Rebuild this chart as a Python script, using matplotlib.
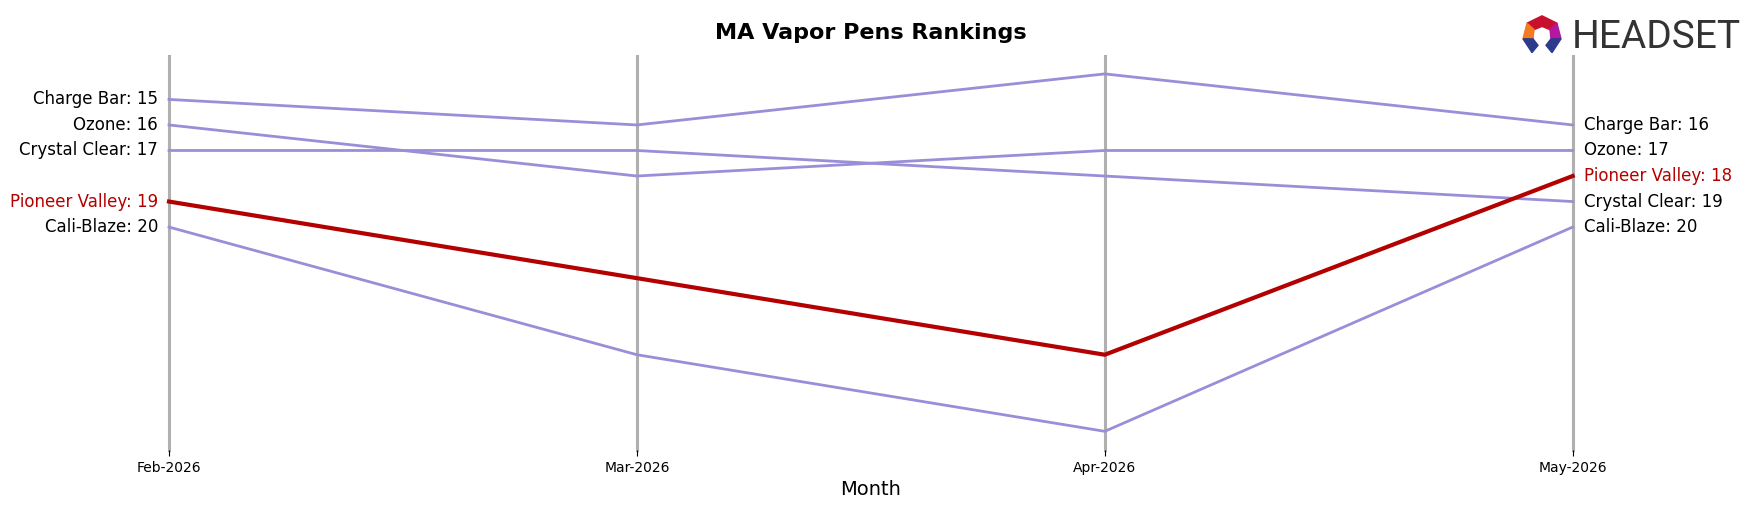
import numpy as np
import matplotlib.pyplot as plt
from matplotlib.patches import Polygon

# Rankings per month (lower = better)
months = ["Feb-2026", "Mar-2026", "Apr-2026", "May-2026"]
brands = ["Charge Bar", "Ozone", "Crystal Clear", "Pioneer Valley", "Cali-Blaze"]
charge_bar = [15, 16, 14, 16]
ozone = [16, 18, 17, 17]
crystal_clear = [17, 17, 18, 19]
pioneer_valley = [19, 22, 25, 18]
cali_blaze = [20, 25, 28, 20]
ranks = [charge_bar, ozone, crystal_clear, pioneer_valley, cali_blaze]
highlight = "Pioneer Valley"

purple = "#9b8ed8"
red = "#b30000"

fig = plt.figure(figsize=(17.55, 5.07), dpi=100)
ax = fig.add_axes([0.0963, 0.112, 0.7998, 0.778])

x = np.arange(len(months))
for xi in x:
    ax.axvline(xi, color="#b0b0b0", lw=2.2, zorder=0, clip_on=False)

for name, r in zip(brands, ranks):
    if name == highlight:
        ax.plot(x, r, color=red, lw=3, zorder=3, clip_on=False)
    else:
        ax.plot(x, r, color=purple, lw=2, zorder=2, clip_on=False)

# labels at the first and last month
for name, r in zip(brands, ranks):
    c = red if name == highlight else "black"
    ax.text(-0.023, r[0], f"{name}: {r[0]}", ha="right", va="center", fontsize=12, color=c)
    ax.text(x[-1] + 0.025, r[-1], f"{name}: {r[-1]}", ha="left", va="center", fontsize=12, color=c)

ax.set_xlim(x[0], x[-1])
ax.set_ylim(28.74, 13.29)
ax.set_xticks(x)
ax.set_xticklabels(months, fontsize=10)
ax.set_yticks([])
ax.tick_params(axis="x", length=4, color="black")
for s in ax.spines.values():
    s.set_visible(False)
ax.set_xlabel("Month", fontsize=14)
ax.set_title("MA Vapor Pens Rankings", fontsize=16, fontweight="bold", pad=12)

# Headset logo
lax = fig.add_axes([1517 / 1755, 1 - 60 / 507, 50 / 1755, 46 / 507])
lax.set_xlim(0, 10)
lax.set_ylim(0, 10)
lax.axis("off")
lax.add_patch(Polygon([[2, 8], [5, 9.6], [8, 8], [6.6, 6.6], [5, 7.3], [3.4, 6.6]], color="#c8102e"))
lax.add_patch(Polygon([[2, 8], [3.4, 6.6], [3.2, 4.6], [1.2, 4.6]], color="#f47b20"))
lax.add_patch(Polygon([[8, 8], [6.6, 6.6], [6.8, 4.6], [8.8, 4.6]], color="#b5179e"))
lax.add_patch(Polygon([[1.2, 4.6], [3.2, 4.6], [4.2, 3.2], [3, 1.6]], color="#2e3a8c"))
lax.add_patch(Polygon([[8.8, 4.6], [6.8, 4.6], [5.8, 3.2], [7, 1.6]], color="#2e3a8c"))
fig.text(1572 / 1755, 1 - 38 / 507, "HEADSET", fontsize=28, color="#333333",
         family="Roboto", ha="left", va="center")

fig.savefig("out.png", dpi=100)
